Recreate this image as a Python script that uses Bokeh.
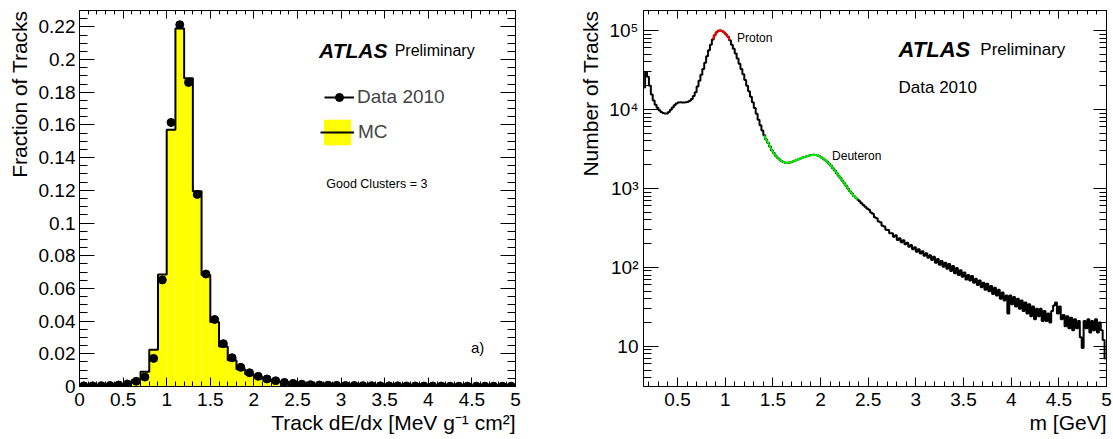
import numpy as np
from bokeh.plotting import figure
from bokeh.models import (FixedTicker, LinearAxis, LogAxis, Label, Legend,
                          LegendItem, Range1d, Title)
from bokeh.layouts import row
from bokeh.embed import file_html
from bokeh.resources import INLINE

FONT = "Liberation Sans"

# ---------------- left panel data: dE/dx fractions (bins of 0.1 from 0 to 5)
dedx_lo = 0.0
dedx_bin = 0.1
mc_fraction = [
    0.0003, 0.0004, 0.0005, 0.0007, 0.0010, 0.0018, 0.0040, 0.0090, 0.0225, 0.0685,
    0.1570, 0.2190, 0.1885, 0.1195, 0.0682, 0.0395, 0.0245, 0.0160, 0.0105, 0.0075,
    0.0055, 0.0041, 0.0031, 0.0024, 0.0019, 0.0015, 0.0012, 0.0010, 0.0009, 0.0008,
    0.0007, 0.0006, 0.0006, 0.0005, 0.0005, 0.0004, 0.0004, 0.0004, 0.0003, 0.0003,
    0.0003, 0.0003, 0.0003, 0.0002, 0.0002, 0.0002, 0.0002, 0.0002, 0.0002, 0.0002,
]
data_fraction = [
    0.0004, 0.0004, 0.0005, 0.0006, 0.0009, 0.0015, 0.0032, 0.0058, 0.0172, 0.0652,
    0.1615, 0.2213, 0.1860, 0.1175, 0.0688, 0.0410, 0.0262, 0.0176, 0.0117, 0.0084,
    0.0062, 0.0046, 0.0035, 0.0025, 0.0019, 0.0014, 0.0011, 0.0009, 0.0008, 0.0007,
    0.0006, 0.0006, 0.0005, 0.0005, 0.0004, 0.0004, 0.0004, 0.0003, 0.0003, 0.0003,
    0.0003, 0.0003, 0.0002, 0.0002, 0.0002, 0.0002, 0.0002, 0.0002, 0.0002, 0.0002,
]
left_x_ticks = [0, 0.5, 1, 1.5, 2, 2.5, 3, 3.5, 4, 4.5, 5]
left_x_tick_labels = ["0", "0.5", "1", "1.5", "2", "2.5", "3", "3.5", "4", "4.5", "5"]
left_y_ticks = [0, 0.02, 0.04, 0.06, 0.08, 0.1, 0.12, 0.14, 0.16, 0.18, 0.2, 0.22]
left_y_tick_labels = ["0", "0.02", "0.04", "0.06", "0.08", "0.1", "0.12", "0.14",
                      "0.16", "0.18", "0.2", "0.22"]

# ---------------- right panel data: mass spectrum (bins of 0.02 GeV from 0.14)
mass_lo = 0.14
mass_bin = 0.02
track_counts = [
    19000, 29500, 26000, 20000, 15500, 13000, 11500, 10500, 9800, 9300,
    9000, 8900, 8900, 9300, 9900, 10600, 11300, 11900, 12200, 12300,
    12200, 12200, 12300, 12500, 12900, 13600, 14800, 16500, 19500, 23000,
    27500, 32500, 39000, 47000, 56000, 66000, 77000, 87000, 95000, 99500,
    100000, 98000, 94000, 89000, 83000, 75000, 66000, 58500, 51000, 44000,
    38000, 32500, 27800, 23600, 20000, 17000, 14500, 12300, 10400, 8800,
    7400, 6300, 5400, 4700, 4150, 3750, 3400, 3050, 2800, 2600,
    2450, 2320, 2220, 2160, 2120, 2110, 2120, 2150, 2190, 2240,
    2290, 2340, 2390, 2440, 2490, 2540, 2580, 2620, 2650, 2660,
    2650, 2610, 2550, 2470, 2380, 2280, 2170, 2050, 1930, 1800,
    1680, 1560, 1450, 1350, 1250, 1160, 1070, 990, 920, 860,
    800, 760, 725, 690, 650, 615, 585, 555, 538, 495,
    478, 432, 420, 380, 372, 336, 330, 300, 298, 270,
    270, 245, 256, 222, 234, 208, 220, 196, 205, 183,
    192, 170, 180, 158, 170, 150, 160, 140, 151, 132,
    142, 124, 136, 114, 128, 108, 120, 102, 114, 96,
    110, 90, 104, 84, 98, 80, 92, 76, 86, 70,
    80, 68, 78, 64, 72, 60, 68, 56, 64, 52,
    62, 50, 58, 46, 55, 44, 52, 40, 48, 38,
    44, 26, 44, 34, 42, 32, 40, 30, 38, 28,
    36, 26, 34, 24, 32, 22, 30, 24, 30, 21,
    28, 21, 26, 20, 28, 33, 36, 26, 32, 22,
    25, 18, 24, 17, 23, 16, 22, 17, 21, 13,
    9.5, 21, 17, 22, 15, 21, 16, 22, 15, 20,
    16, 12, 7,
]
proton_fit_range = [0.86, 1.05]
deuteron_fit_range = [1.40, 2.40]
right_x_ticks = [0.5, 1, 1.5, 2, 2.5, 3, 3.5, 4, 4.5, 5]
right_x_tick_labels = ["0.5", "1", "1.5", "2", "2.5", "3", "3.5", "4", "4.5", "5"]
right_y_ticks = [10, 100, 1000, 10000, 100000]
right_y_tick_labels = ["10", "10\u00b2", "10\u00b3", "10\u2074", "10\u2075"]


def style_axis(ax, ticks, labels, minor, major_len, minor_len, show=True):
    ax.ticker = FixedTicker(ticks=list(ticks), minor_ticks=list(minor))
    ax.major_tick_in = major_len
    ax.major_tick_out = 0
    ax.minor_tick_in = minor_len
    ax.minor_tick_out = 0
    ax.axis_line_color = "black"
    ax.major_tick_line_color = "black"
    ax.minor_tick_line_color = "black"
    ax.major_tick_line_width = 1
    ax.minor_tick_line_width = 1
    if show:
        ax.major_label_overrides = {t: l for t, l in zip(ticks, labels)}
        ax.major_label_text_font = FONT
        ax.major_label_text_font_size = "19px"
        ax.major_label_text_color = "black"
    else:
        ax.major_label_overrides = {t: "" for t in ticks}
        ax.major_label_text_font_size = "0px"
        ax.major_label_standoff = 0


def add_text(p, x, y, text, size, style="normal", align="left", baseline="alphabetic"):
    p.add_layout(Label(x=x, y=y, text=text, text_font=FONT, text_font_size=size,
                       text_font_style=style, text_align=align, text_baseline=baseline,
                       text_color="black"))


def axis_title(p, text, side, standoff=0):
    p.add_layout(Title(text=text, align="right", text_font=FONT, text_font_size="21px",
                       text_font_style="normal", text_color="black",
                       standoff=standoff, offset=0), side)


# ======================= LEFT PANEL =======================
p1 = figure(width=557, height=439, x_range=Range1d(0, 5), y_range=Range1d(0, 0.23),
            output_backend="svg", toolbar_location=None,
            min_border_left=79, min_border_right=42, min_border_top=9, min_border_bottom=53)
p1.grid.visible = False
p1.outline_line_color = "black"
p1.background_fill_color = "white"
p1.border_fill_color = "white"

n_l = len(mc_fraction)
edges = np.round(dedx_lo + dedx_bin * np.arange(n_l + 1), 3)
centers_l = np.round(edges[:-1] + dedx_bin / 2, 3)

fill_r = p1.quad(left=edges[:-1], right=edges[1:], bottom=0, top=mc_fraction,
                 fill_color="#ffff00", line_color=None)
step_x = list(edges)
step_y = list(mc_fraction) + [mc_fraction[-1]]
outline_r = p1.step(x=step_x, y=step_y, mode="after", line_color="black", line_width=2)
err_r = p1.segment(x0=centers_l, y0=data_fraction, x1=centers_l, y1=data_fraction,
                   line_color="black", line_width=2)
pts_r = p1.scatter(x=centers_l, y=data_fraction, size=8, color="black")

minor_lx = np.round(np.arange(0, 5.0001, 0.1), 2)
minor_ly = np.round(np.arange(0, 0.2301, 0.005), 3)
style_axis(p1.xaxis[0], left_x_ticks, left_x_tick_labels, minor_lx, 9, 5)
style_axis(p1.yaxis[0], left_y_ticks, left_y_tick_labels, minor_ly, 15, 8)
p1.xaxis[0].major_label_standoff = 6
p1.yaxis[0].major_label_standoff = 4
top1 = LinearAxis()
style_axis(top1, left_x_ticks, left_x_tick_labels, minor_lx, 8, 4, show=False)
p1.add_layout(top1, "above")
right1 = LinearAxis()
style_axis(right1, left_y_ticks, left_y_tick_labels, minor_ly, 15, 8, show=False)
p1.add_layout(right1, "right")
axis_title(p1, "Track dE/dx [MeV g\u207b\u00b9 cm\u00b2]", "below")
axis_title(p1, "Fraction of Tracks", "left", standoff=10)

legend_data = Legend(items=[LegendItem(label="Data 2010", renderers=[err_r, pts_r])],
                     location=(245, 278), border_line_alpha=0, background_fill_alpha=0,
                     glyph_width=30, glyph_height=20, label_height=20, spacing=0,
                     padding=0, margin=0, label_standoff=3,
                     label_text_font=FONT, label_text_font_size="19px")
legend_mc = Legend(items=[LegendItem(label="MC", renderers=[fill_r, outline_r])],
                   location=(241, 238), border_line_alpha=0, background_fill_alpha=0,
                   glyph_width=34, glyph_height=32, label_height=32, spacing=0,
                   padding=0, margin=0, label_standoff=4,
                   label_text_font=FONT, label_text_font_size="19px")
p1.add_layout(legend_data)
p1.add_layout(legend_mc)

add_text(p1, 2.747, 0.2055, "ATLAS", "21px", style="bold italic")
add_text(p1, 3.614, 0.2055, "Preliminary", "16px")
add_text(p1, 2.83, 0.1236, "Good Clusters = 3", "12.5px")
add_text(p1, 4.49, 0.0236, "a)", "15px")

# ======================= RIGHT PANEL =======================
p2 = figure(width=556, height=439, x_range=Range1d(0.143, 5.0), y_range=Range1d(3.1, 1.79e5),
            y_axis_type="log", output_backend="svg", toolbar_location=None,
            min_border_left=86, min_border_right=7, min_border_top=10, min_border_bottom=52)
p2.grid.visible = False
p2.outline_line_color = "black"
p2.background_fill_color = "white"
p2.border_fill_color = "white"

n_r = len(track_counts)
centers_r = np.round(mass_lo + mass_bin * (np.arange(n_r) + 0.5), 3)
counts_arr = np.array(track_counts, dtype=float)
p2.step(x=centers_r, y=counts_arr, mode="center", line_color="black", line_width=2)

pm = (centers_r >= proton_fit_range[0]) & (centers_r <= proton_fit_range[1])
p2.line(x=centers_r[pm], y=counts_arr[pm], line_color="#ff0000", line_width=2)
dm = (centers_r >= deuteron_fit_range[0]) & (centers_r <= deuteron_fit_range[1])
p2.line(x=centers_r[dm], y=counts_arr[dm], line_color="#00ee00", line_width=2)

minor_rx = np.round(np.arange(0.2, 5.0001, 0.1), 2)
minor_ry = [m * 10 ** e for e in range(0, 6) for m in range(2, 10) if 3.1 <= m * 10 ** e <= 1.79e5]
style_axis(p2.xaxis[0], right_x_ticks, right_x_tick_labels, minor_rx, 9, 5)
style_axis(p2.yaxis[0], right_y_ticks, right_y_tick_labels, minor_ry, 15, 8)
p2.xaxis[0].major_label_standoff = 6
p2.yaxis[0].major_label_standoff = 5
top2 = LinearAxis()
style_axis(top2, right_x_ticks, right_x_tick_labels, minor_rx, 8, 4, show=False)
p2.add_layout(top2, "above")
right2 = LogAxis()
style_axis(right2, right_y_ticks, right_y_tick_labels, minor_ry, 13, 7, show=False)
p2.add_layout(right2, "right")
axis_title(p2, "m [GeV]", "below")
axis_title(p2, "Number of Tracks", "left", standoff=10)

add_text(p2, 1.124, 80000, "Proton", "12px")
add_text(p2, 2.121, 2550, "Deuteron", "12px")
add_text(p2, 2.818, 57000, "ATLAS", "22px", style="bold italic")
add_text(p2, 3.676, 57000, "Preliminary", "17px")
add_text(p2, 2.818, 19200, "Data 2010", "17px")

layout = row(p1, p2)
open("out.html", "w").write(file_html(layout, INLINE))
